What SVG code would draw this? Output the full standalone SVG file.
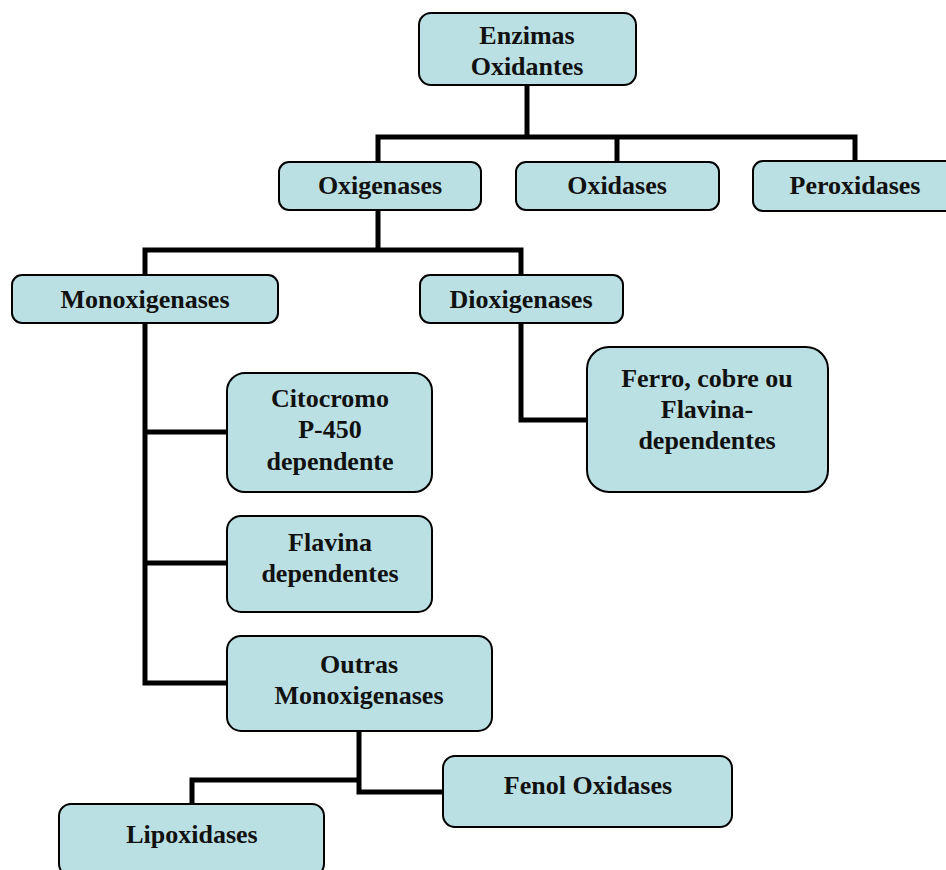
<svg xmlns="http://www.w3.org/2000/svg" width="946" height="870" viewBox="0 0 946 870">
<style>
.box{fill:#bae0e3;stroke:#000;stroke-width:2}
.t{font-family:"Liberation Serif","Times New Roman",serif;font-weight:bold;font-size:26px;fill:#111;text-anchor:middle}
.c{fill:none;stroke:#000;stroke-width:5;stroke-linejoin:miter;stroke-linecap:square}
</style>
<rect width="946" height="870" fill="#fff"/>
<g id="connectors">
<path class="c" d="M527 85V137M378 137H855M378 137V162M617 137V162M855 137V161"/>
<path class="c" d="M378 210V250M145 250H521M145 250V275M521 250V275"/>
<path class="c" d="M145 323V683H227M145 432H227M145 563H227"/>
<path class="c" d="M521 323V420H587"/>
<path class="c" d="M359 731V792H443M359 780H192V804"/>
</g>
<g id="enzimas"><rect class="box" x="419" y="13" width="217" height="72" rx="12"/><text class="t" x="527" y="44">Enzimas</text><text class="t" x="527" y="75">Oxidantes</text></g>
<g id="oxigenases"><rect class="box" x="279" y="162" width="202" height="48" rx="10"/><text class="t" x="380" y="194">Oxigenases</text></g>
<g id="oxidases"><rect class="box" x="516" y="162" width="203" height="48" rx="10"/><text class="t" x="617" y="194">Oxidases</text></g>
<g id="peroxidases"><rect class="box" x="753" y="161" width="203" height="50" rx="10"/><text class="t" x="855" y="194">Peroxidases</text></g>
<g id="monoxigenases"><rect class="box" x="12" y="275" width="266" height="48" rx="10"/><text class="t" x="145" y="308">Monoxigenases</text></g>
<g id="dioxigenases"><rect class="box" x="420" y="275" width="203" height="48" rx="10"/><text class="t" x="521" y="308">Dioxigenases</text></g>
<g id="citocromo"><rect class="box" x="227" y="373" width="205" height="119" rx="18"/><text class="t" x="330" y="407">Citocromo</text><text class="t" x="330" y="438">P-450</text><text class="t" x="330" y="470">dependente</text></g>
<g id="flavina"><rect class="box" x="227" y="516" width="205" height="96" rx="14"/><text class="t" x="330" y="551">Flavina</text><text class="t" x="330" y="582">dependentes</text></g>
<g id="ferro"><rect class="box" x="587" y="347" width="241" height="145" rx="22"/><text class="t" x="707" y="387">Ferro, cobre ou</text><text class="t" x="707" y="418">Flavina-</text><text class="t" x="707" y="449">dependentes</text></g>
<g id="outras"><rect class="box" x="227" y="636" width="265" height="95" rx="14"/><text class="t" x="359" y="673">Outras</text><text class="t" x="359" y="704">Monoxigenases</text></g>
<g id="fenol"><rect class="box" x="443" y="756" width="289" height="71" rx="12"/><text class="t" x="588" y="794">Fenol Oxidases</text></g>
<g id="lipoxidases"><rect class="box" x="59" y="804" width="265" height="72" rx="12"/><text class="t" x="192" y="843">Lipoxidases</text></g>
</svg>
